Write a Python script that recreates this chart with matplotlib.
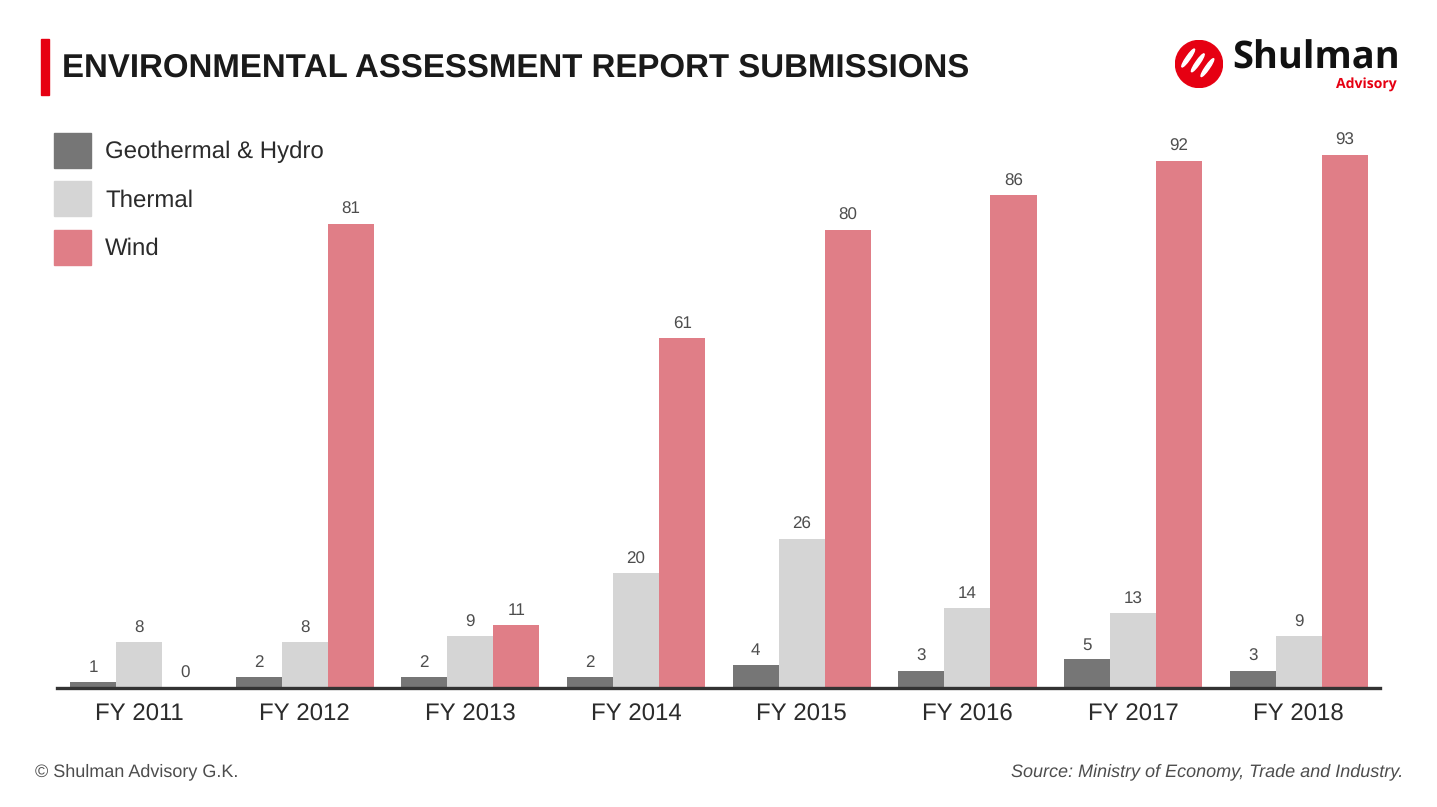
import matplotlib
matplotlib.use('Agg')
import matplotlib.pyplot as plt
import matplotlib.patches as mpatches
import numpy as np

plt.rcParams['font.family'] = ['Liberation Sans', 'DejaVu Sans']
plt.rcParams['text.hinting'] = 'no_hinting'
plt.rcParams['text.hinting_factor'] = 1

years = ['FY 2011', 'FY 2012', 'FY 2013', 'FY 2014', 'FY 2015', 'FY 2016', 'FY 2017', 'FY 2018']
series_names = ['Geothermal & Hydro', 'Thermal', 'Wind']
geo_hydro = [1, 2, 2, 2, 4, 3, 5, 3]
thermal = [8, 8, 9, 20, 26, 14, 13, 9]
wind = [0, 81, 11, 61, 80, 86, 92, 93]
colors = ['#767676', '#d5d5d5', '#e07e87']

fig = plt.figure(figsize=(14.37, 8.07), dpi=100)
ax = fig.add_axes([0.0397, 0.1475, 0.9206, 0.71])

x = np.arange(len(years))
w = 0.278
for i, (vals, c) in enumerate(zip([geo_hydro, thermal, wind], colors)):
    pos = x + (i - 1) * w
    bars = ax.bar(pos, vals, width=w, color=c, zorder=2)
    for b, v in zip(bars, vals):
        ax.annotate(str(v), (b.get_x() + b.get_width() / 2, v),
                    xytext=(0, 4.5), textcoords='offset points',
                    ha='center', va='bottom', fontsize=12.5, color='#4d4d4d')

ax.set_xlim(-0.495, 7.49)
ax.set_ylim(0, 100)
ax.set_xticks(x)
ax.set_xticklabels(years, fontsize=17, color='#2b2b2b')
ax.tick_params(axis='x', length=0, pad=11)
ax.set_yticks([])
for s in ['top', 'right', 'left']:
    ax.spines[s].set_visible(False)
ax.spines['bottom'].set_color('#333333')
ax.spines['bottom'].set_linewidth(2.4)
ax.spines['bottom'].set_zorder(3)

# title with red accent bar
fig.patches.append(mpatches.Rectangle((41 / 1437, 1 - 95 / 807), 8 / 1437, 56 / 807,
                                      transform=fig.transFigure, color='#e60012'))
fig.text(62 / 1437, 1 - 68 / 807, 'ENVIRONMENTAL ASSESSMENT REPORT SUBMISSIONS',
         fontsize=23.7, fontweight='bold', color='#1a1a1a', va='center', ha='left')

# legend
for k, (name, c) in enumerate(zip(series_names, colors)):
    yc = 150 + k * 48.5
    fig.patches.append(mpatches.Rectangle((54 / 1437, 1 - (yc + 17.5) / 807), 37 / 1437, 35 / 807,
                                          transform=fig.transFigure, color=c))
    fig.text(105 / 1437, 1 - (yc + 2) / 807, name, fontsize=17.2, color='#2b2b2b',
             va='center', ha='left')

# footer
fig.text(35 / 1437, 1 - 772 / 807, '\u00a9 Shulman Advisory G.K.', fontsize=13,
         color='#4d4d4d', va='center', ha='left')
fig.text(1403 / 1437, 1 - 772 / 807, 'Source: Ministry of Economy, Trade and Industry.',
         fontsize=13, color='#4d4d4d', va='center', ha='right', style='italic')

# logo
lax = fig.add_axes([1175 / 1437, 1 - 88 / 807, 48 / 1437, 48 / 807])
lax.set_xlim(-1, 1)
lax.set_ylim(-1, 1)
lax.set_aspect('equal')
lax.axis('off')
lax.add_patch(mpatches.Circle((0, 0), 0.98, color='#e60012'))
for dx, dy in [(-0.45, 0.25), (-0.05, 0.05), (0.35, -0.15)]:
    lax.add_patch(mpatches.Ellipse((dx, dy), 0.9, 0.16, angle=55, color='white'))
fig.text(1232 / 1437, 1 - 69 / 807, 'Shulman', fontsize=27, fontweight='bold',
         family=['Open Sans', 'DejaVu Sans'], color='#111111', va='baseline', ha='left')
fig.text(1397 / 1437, 1 - 89 / 807, 'Advisory', fontsize=10, fontweight='bold',
         family=['Open Sans', 'DejaVu Sans'], color='#e60012', va='baseline', ha='right')

fig.savefig('out.png', dpi=100)
